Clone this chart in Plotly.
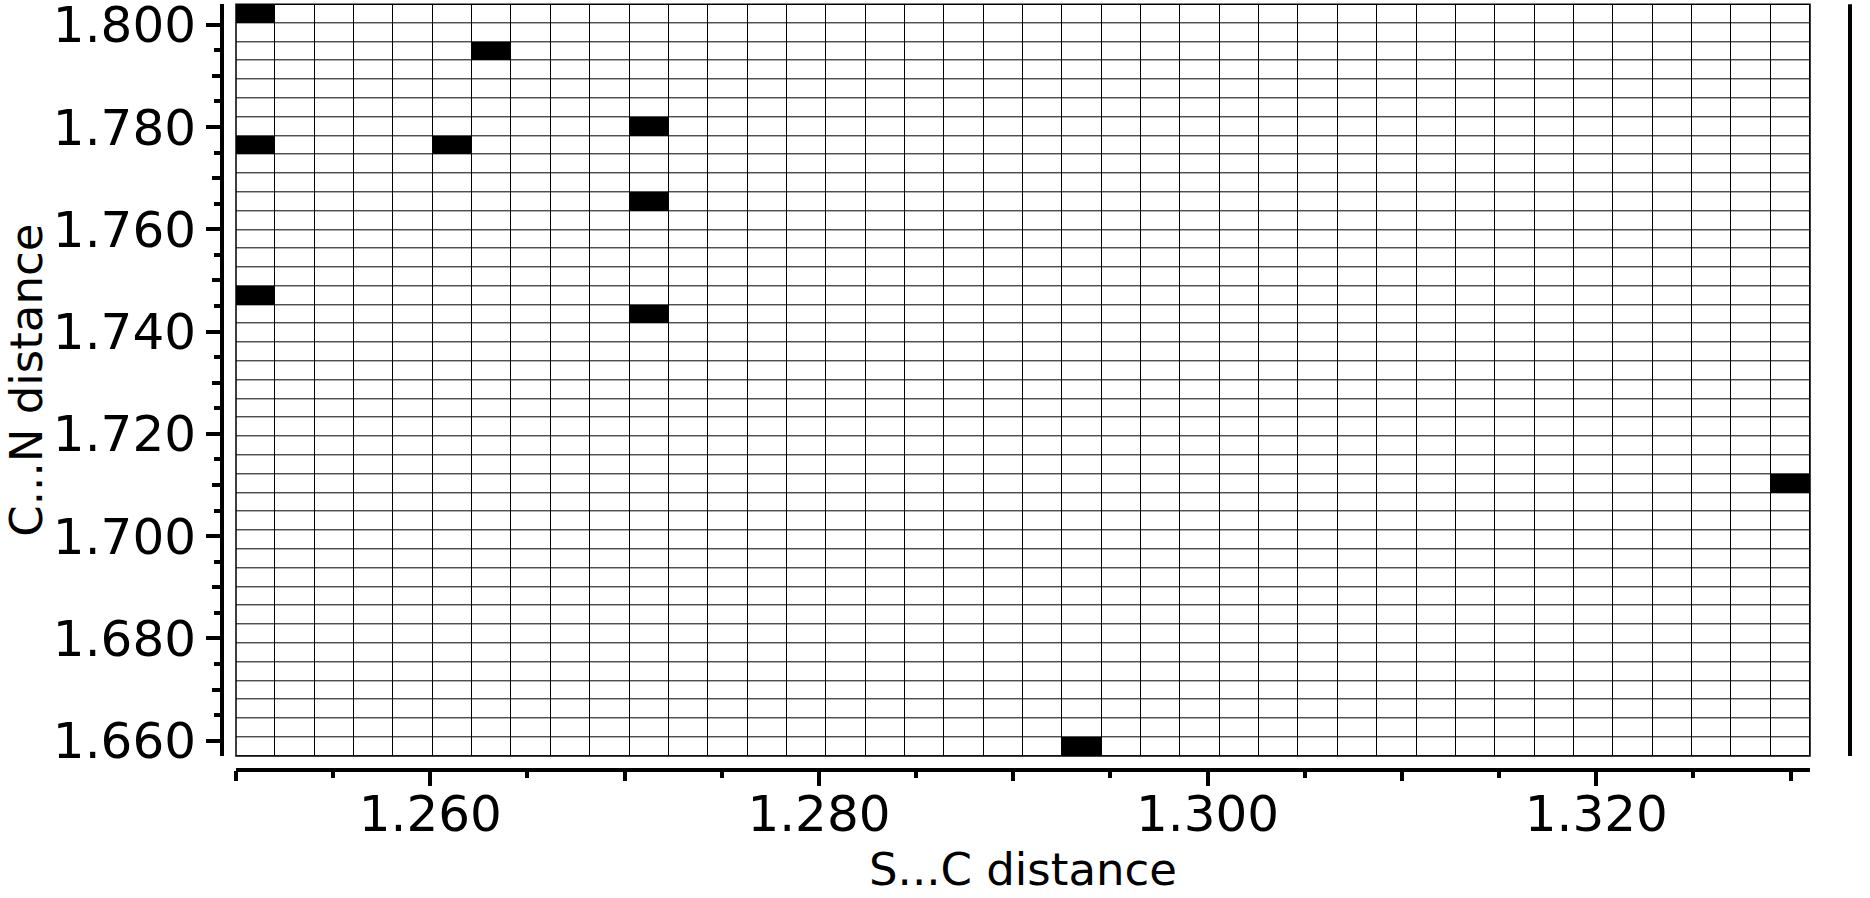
import numpy as np
import plotly.graph_objects as go

# S...C distance (x) and C...N distance (y) of each observation
sc_distance = [1.250, 1.263, 1.250, 1.261, 1.250, 1.271, 1.271, 1.271, 1.293, 1.331]
cn_distance = [1.804, 1.795, 1.777, 1.777, 1.747, 1.780, 1.766, 1.744, 1.657, 1.711]

n_bins_x = 40
n_bins_y = 40
x_label = "S...C distance"
y_label = "C...N distance"

x_edges = np.linspace(min(sc_distance), max(sc_distance), n_bins_x + 1)
y_edges = np.linspace(min(cn_distance), max(cn_distance), n_bins_y + 1)
counts, _, _ = np.histogram2d(sc_distance, cn_distance, bins=[x_edges, y_edges])
x_centers = (x_edges[:-1] + x_edges[1:]) / 2
y_centers = (y_edges[:-1] + y_edges[1:]) / 2

W, H = 1870, 898
L, R, T, B = 200, 60, 4, 100
pw = W - L - R
ph = H - T - B
grid_left, grid_right, grid_top, grid_bottom = 236, 1810, 4.3, 756
xdom = [(grid_left - L) / pw, (grid_right - L) / pw]
ydom = [(H - B - grid_bottom) / ph, (H - B - grid_top) / ph]
xpos = (H - B - 770) / ph
ypos = (222 - L) / pw

fig = go.Figure()
fig.add_trace(go.Heatmap(
    x=x_centers, y=y_centers, z=counts.T,
    colorscale=[[0, "white"], [1, "black"]], zmin=0, zmax=1,
    xgap=1, ygap=1, showscale=False, hoverinfo="skip",
))
# invisible trace for medium-tick overlay axes
fig.add_trace(go.Scatter(x=[x_edges[0]], y=[y_edges[0]], xaxis="x2", yaxis="y2",
                         mode="markers", marker=dict(opacity=0), hoverinfo="skip", showlegend=False))

tick_font = dict(family="DejaVu Sans", size=50, color="black")
title_font = dict(family="DejaVu Sans", size=45, color="black")
common = dict(showgrid=False, zeroline=False, ticks="outside", tickcolor="black",
              tickwidth=4, linecolor="black", linewidth=4, showline=True,
              tickfont=tick_font, anchor="free", ticklabeloverflow="allow", automargin=False)

fig.update_layout(
    width=W, height=H, margin=dict(l=L, r=R, t=T, b=B, autoexpand=False),
    paper_bgcolor="white", plot_bgcolor="black", showlegend=False,
    xaxis=dict(domain=xdom, range=[x_edges[0], x_edges[-1]], position=xpos,
               tick0=1.26, dtick=0.02, ticklen=14, tickformat=".3f", ticklabelstandoff=-15,
               minor=dict(tick0=1.255, dtick=0.005, ticklen=6, tickwidth=4, tickcolor="black", ticks="outside"),
               title=dict(text=x_label, font=title_font, standoff=6), **common),
    yaxis=dict(domain=ydom, range=[y_edges[0], y_edges[-1]], position=ypos,
               tick0=1.66, dtick=0.02, ticklen=14, tickformat=".3f",
               minor=dict(tick0=1.665, dtick=0.005, ticklen=6, tickwidth=4, tickcolor="black", ticks="outside"),
               title=dict(text=y_label, font=title_font, standoff=0), **common),
    xaxis2=dict(domain=xdom, range=[x_edges[0], x_edges[-1]], overlaying="x", anchor="free",
                position=xpos, showgrid=False, zeroline=False, showline=False, ticks="outside",
                tick0=1.26, dtick=0.01, ticklen=10, tickwidth=4, tickcolor="black", showticklabels=False,
                automargin=False),
    yaxis2=dict(domain=ydom, range=[y_edges[0], y_edges[-1]], overlaying="y", anchor="free",
                position=ypos, showgrid=False, zeroline=False, showline=False, ticks="outside",
                tick0=1.66, dtick=0.01, ticklen=10, tickwidth=4, tickcolor="black", showticklabels=False,
                automargin=False),
    shapes=[
        dict(type="rect", xref="x domain", yref="y domain", x0=0, x1=1, y0=0, y1=1,
             line=dict(color="black", width=1.5), layer="above"),
        dict(type="line", xref="paper", yref="y domain", x0=(1850 - L) / pw, x1=(1850 - L) / pw,
             y0=0, y1=1, line=dict(color="black", width=4)),
    ],
)

fig.write_html("out.html", config={"displayModeBar": False},
               post_script="document.body.style.margin='0';document.body.style.overflow='hidden';")
